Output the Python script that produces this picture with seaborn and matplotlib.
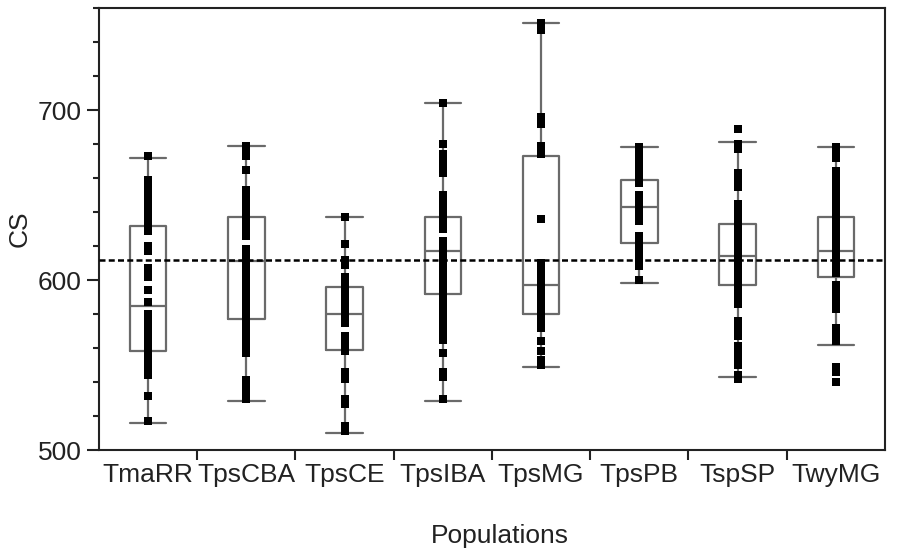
import numpy as np
import pandas as pd
import seaborn as sns
import matplotlib
matplotlib.use("Agg")
import matplotlib.pyplot as plt
from matplotlib.ticker import FixedLocator, MultipleLocator

# Populations on the x axis
populations = ["TmaRR", "TpsCBA", "TpsCE", "TpsIBA", "TpsMG", "TpsPB", "TspSP", "TwyMG"]

# Five-number box summaries (whisker ends, quartiles, median) for CS
whisker_low  = [516, 529, 510, 529, 549, 598, 543, 562]
q1           = [558, 577, 559, 592, 580, 622, 597, 602]
median       = [585, 611, 580, 617, 597, 643, 614, 617]
q3           = [632, 637, 596, 637, 673, 659, 633, 637]
whisker_high = [672, 679, 637, 704, 751, 678, 681, 678]

# Overall mean of CS (dashed reference line)
grand_mean = 612

# Individual CS observations per population
cs_tmarr = [673, 659, 655, 652, 649, 646, 643, 640, 637, 634, 631, 629,
            620, 617, 607, 604, 602, 594, 587,
            580, 577, 574, 571, 568, 565, 562, 559, 556, 553, 550, 548,
            544, 532, 517]
cs_tpscba = [679, 676, 673, 665,
             653, 650, 647, 644, 641, 638, 635, 632, 629, 626,
             618, 615, 612, 609, 606, 603, 600, 597, 594, 591, 588, 585,
             582, 579, 576, 573, 570, 567, 564, 561, 558, 557,
             541, 537, 533, 530]
cs_tpsce = [637, 621, 612, 609,
            602, 599, 596, 593, 590, 587, 584, 581, 578, 575,
            567, 564, 561, 558, 546, 542, 530, 527, 514, 511]
cs_tpsiba = [704, 680, 674, 671, 668, 665, 663,
             650, 647, 644, 641, 638, 635, 632, 630,
             623, 620, 617, 614, 611, 608, 605, 602, 599, 596, 593, 590,
             587, 584, 581, 578, 575, 572, 569,
             565, 557, 546, 543, 530]
cs_tpsmg = [751, 747, 696, 692, 679, 676, 674, 636,
            610, 607, 604, 601, 598, 595, 592, 589, 586, 583, 580, 577,
            574, 572, 564, 558, 553, 550]
cs_tpspb = [678, 675, 672, 669, 666, 663, 660, 657,
            650, 647, 644, 641, 638, 635,
            626, 623, 620, 617, 614, 611, 608, 600]
cs_tspsp = [689, 680, 677, 663, 660, 657, 655,
            645, 642, 639, 636, 633, 630, 627, 624, 621, 618, 615, 612,
            609, 606, 603, 600, 597, 594, 591, 588, 586,
            576, 573, 570, 567, 561, 558, 555, 552, 550, 544, 542]
cs_twymg = [678, 675, 672,
            664, 661, 658, 655, 652, 649, 646, 643, 640, 637, 634, 631,
            628, 625, 622, 619, 616, 613, 610, 607, 604,
            597, 594, 591, 588, 585, 583, 572, 568, 564,
            549, 546, 540]

observations = [cs_tmarr, cs_tpscba, cs_tpsce, cs_tpsiba,
                cs_tpsmg, cs_tpspb, cs_tspsp, cs_twymg]

summary = pd.DataFrame({
    "Population": np.repeat(populations, 5),
    "CS": np.ravel(np.column_stack([whisker_low, q1, median, q3, whisker_high])),
})
points = pd.DataFrame({
    "Population": np.concatenate([[p] * len(v) for p, v in zip(populations, observations)]),
    "CS": np.concatenate(observations),
})

sns.set_style("ticks")
plt.rcParams["font.family"] = ["Liberation Sans", "DejaVu Sans"]

fig = plt.figure(figsize=(8.99, 5.54), dpi=100)
ax = fig.add_axes([0.1101, 0.1877, 0.8743, 0.7978])

sns.boxplot(data=summary, x="Population", y="CS", order=populations,
            whis=(0, 100), width=0.37, fill=False, color="#6a6a6a",
            linewidth=1.6, showfliers=False, ax=ax, zorder=2)

# widen the whisker caps to the full box width
box_w = 0.37
for line in ax.lines:
    xd = np.asarray(line.get_xdata(), dtype=float)
    yd = np.asarray(line.get_ydata(), dtype=float)
    if len(xd) == 2 and yd[0] == yd[1] and (yd[0] in whisker_low or yd[0] in whisker_high):
        c = xd.mean()
        line.set_xdata([c - box_w / 2, c + box_w / 2])

ax.axhline(grand_mean, color="black", lw=1.8, ls=(0, (2.4, 1.3)), zorder=3)

sns.stripplot(data=points, x="Population", y="CS", order=populations,
              jitter=False, marker="s", size=5.2, color="black",
              linewidth=0, ax=ax, zorder=4)

ax.set_xlim(-0.5, 7.5)
ax.set_ylim(500, 760)

ax.yaxis.set_major_locator(FixedLocator([500, 600, 700]))
ax.yaxis.set_minor_locator(MultipleLocator(20))
ax.tick_params(axis="y", which="major", length=9, width=1.5, pad=3.5,
               labelsize=19, colors="#222222", direction="out")
ax.tick_params(axis="y", which="minor", length=4.5, width=1.5, color="#222222",
               direction="out")

ax.xaxis.set_minor_locator(FixedLocator(np.arange(0.5, 7.0, 1.0)))
ax.tick_params(axis="x", which="major", length=0, pad=9, labelsize=19,
               colors="#222222")
ax.tick_params(axis="x", which="minor", length=7, width=1.5, color="#222222",
               direction="out")

for side in ["left", "right", "top", "bottom"]:
    ax.spines[side].set_visible(True)
    ax.spines[side].set_linewidth(1.5)
    ax.spines[side].set_color("#222222")

ax.set_xlabel("Populations", fontsize=19, color="#222222")
ax.set_ylabel("CS", fontsize=19, color="#222222")
ax.xaxis.set_label_coords(0.51, -0.168)
ax.yaxis.set_label_coords(-0.086, 0.5)

fig.savefig("out.png", dpi=100)
